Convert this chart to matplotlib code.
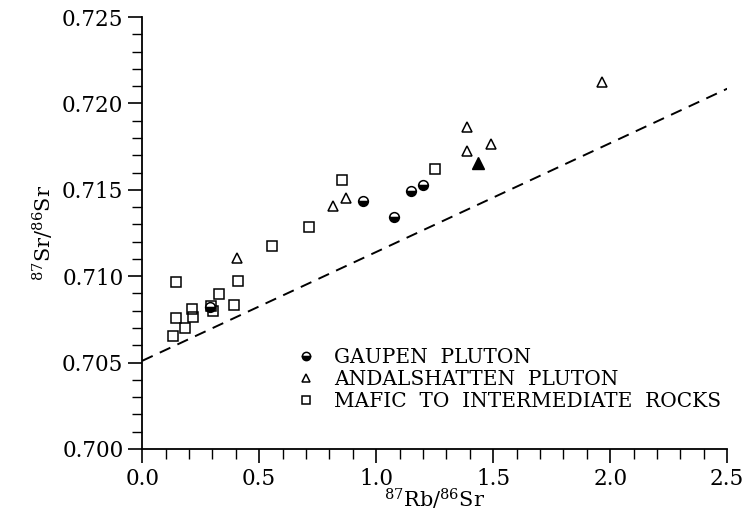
import numpy as np
import matplotlib.pyplot as plt
from matplotlib.ticker import MultipleLocator, FormatStrFormatter

plt.rcParams['font.family'] = 'DejaVu Serif'
plt.rcParams['mathtext.fontset'] = 'dejavuserif'

# Gaupen pluton (half-filled circles)
gaupen_x = [0.29, 0.943, 1.075, 1.148, 1.20]
gaupen_y = [0.7082, 0.71435, 0.71343, 0.71493, 0.71528]

# Andalshatten pluton (open triangles)
andal_x = [0.407, 0.814, 0.870, 1.388, 1.388, 1.491, 1.967]
andal_y = [0.71105, 0.71406, 0.71453, 0.71863, 0.71725, 0.71765, 0.72124]
# filled triangle
andal_fill_x = [1.435]
andal_fill_y = [0.71655]

# mafic to intermediate rocks (open squares)
mafic_x = [0.133, 0.146, 0.146, 0.184, 0.214, 0.218, 0.296, 0.304, 0.330,
           0.394, 0.411, 0.553, 0.711, 0.853, 1.251]
mafic_y = [0.70654, 0.70758, 0.70966, 0.70700, 0.70810, 0.70764, 0.70828, 0.70799, 0.70897,
           0.70833, 0.70972, 0.71175, 0.71285, 0.71557, 0.71620]

# reference line
line_x = [0.0, 2.5]
line_y = [0.7051, 0.72085]

fig = plt.figure(figsize=(7.52, 5.25), dpi=100)
ax = fig.add_axes([0.189, 0.1448, 0.778, 0.8228])

ax.plot(line_x, line_y, color='black', lw=1.4, ls=(0, (6, 4)))

ax.plot(mafic_x, mafic_y, 's', ms=7, mfc='none', mec='black', mew=1.1,
        label='MAFIC  TO  INTERMEDIATE  ROCKS')
ax.plot(andal_x, andal_y, '^', ms=7.5, mfc='none', mec='black', mew=1.1,
        label='ANDALSHATTEN  PLUTON')
ax.plot(andal_fill_x, andal_fill_y, '^', ms=8, mfc='black', mec='black')
ax.plot(gaupen_x, gaupen_y, 'o', ms=7, fillstyle='bottom', mfc='black',
        mfcalt='white', mec='black', mew=1.1, label='GAUPEN  PLUTON')

ax.set_xlim(0, 2.5)
ax.set_ylim(0.700, 0.725)
ax.spines['top'].set_visible(False)
ax.spines['right'].set_visible(False)
for s in ['left', 'bottom']:
    ax.spines[s].set_linewidth(1.3)

ax.xaxis.set_major_locator(MultipleLocator(0.5))
ax.xaxis.set_minor_locator(MultipleLocator(0.1))
ax.yaxis.set_major_locator(MultipleLocator(0.005))
ax.yaxis.set_minor_locator(MultipleLocator(0.001))
ax.xaxis.set_major_formatter(FormatStrFormatter('%.1f'))
ax.yaxis.set_major_formatter(FormatStrFormatter('%.3f'))
ax.tick_params(which='major', direction='out', length=10, width=1.2, labelsize=15.5)
ax.tick_params(which='minor', direction='out', length=7, width=1.0)

ax.set_xlabel(r'$^{87}$Rb/$^{86}$Sr', fontsize=15, labelpad=-2)
ax.set_ylabel(r'$^{87}$Sr/$^{86}$Sr', fontsize=15, labelpad=4)

handles, labels = ax.get_legend_handles_labels()
order = [2, 1, 0]
ax.legend([handles[i] for i in order], [labels[i] for i in order],
          loc='upper left', bbox_to_anchor=(0.235, 0.275), frameon=False,
          fontsize=14.5, handlelength=0.8, handletextpad=1.0, labelspacing=0.15,
          markerscale=0.85)

fig.savefig('out.png', dpi=100)
